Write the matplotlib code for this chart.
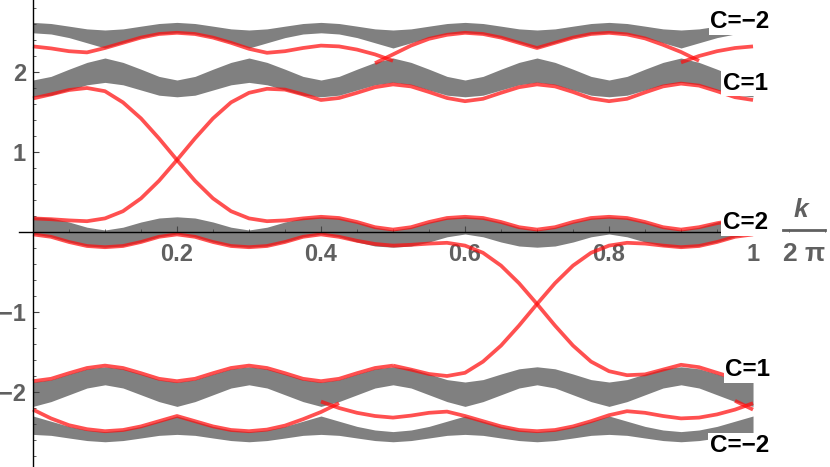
import numpy as np
import matplotlib
matplotlib.use("Agg")
import matplotlib.pyplot as plt
from matplotlib.lines import Line2D
from matplotlib.ticker import FixedLocator, MultipleLocator

plt.rcParams['font.family'] = ['Liberation Sans', 'DejaVu Sans']
plt.rcParams['font.weight'] = 'bold'

# ---------------- data ----------------
K = np.linspace(0, 1, 41)  # k/(2 pi) grid, step 0.025

A_top = [2.62, 2.606, 2.573, 2.539, 2.525, 2.539, 2.573, 2.606,
         2.62, 2.606, 2.573, 2.539, 2.525, 2.539, 2.573, 2.606,
         2.62, 2.606, 2.573, 2.539, 2.525, 2.539, 2.573, 2.606,
         2.62, 2.606, 2.573, 2.539, 2.525, 2.539, 2.573, 2.606,
         2.62, 2.606, 2.573, 2.539, 2.525, 2.539, 2.573, 2.606, 2.62]
A_bot = [2.49, 2.475, 2.43, 2.365, 2.30, 2.365, 2.43, 2.475,
         2.49, 2.475, 2.43, 2.365, 2.30, 2.365, 2.43, 2.475,
         2.49, 2.475, 2.43, 2.365, 2.30, 2.365, 2.43, 2.475,
         2.49, 2.475, 2.43, 2.365, 2.30, 2.365, 2.43, 2.475,
         2.49, 2.475, 2.43, 2.365, 2.30, 2.365, 2.43, 2.475, 2.49]
B_top = [1.90, 1.945, 2.035, 2.12, 2.175, 2.12, 2.035, 1.945,
         1.90, 1.945, 2.035, 2.12, 2.175, 2.12, 2.035, 1.945,
         1.90, 1.945, 2.035, 2.12, 2.175, 2.12, 2.035, 1.945,
         1.90, 1.945, 2.035, 2.12, 2.175, 2.12, 2.035, 1.945,
         1.90, 1.945, 2.035, 2.12, 2.175, 2.12, 2.035, 1.945, 1.90]
B_bot = [1.69, 1.71, 1.775, 1.84, 1.87, 1.84, 1.775, 1.71,
         1.69, 1.71, 1.775, 1.84, 1.87, 1.84, 1.775, 1.71,
         1.69, 1.71, 1.775, 1.84, 1.87, 1.84, 1.775, 1.71,
         1.69, 1.71, 1.775, 1.84, 1.87, 1.84, 1.775, 1.71,
         1.69, 1.71, 1.775, 1.84, 1.87, 1.84, 1.775, 1.71, 1.69]
E_top = [0.19, 0.175, 0.125, 0.06, 0.025, 0.06, 0.125, 0.175,
         0.19, 0.175, 0.125, 0.06, 0.025, 0.06, 0.125, 0.175,
         0.19, 0.175, 0.125, 0.06, 0.025, 0.06, 0.125, 0.175,
         0.19, 0.175, 0.125, 0.06, 0.025, 0.06, 0.125, 0.175,
         0.19, 0.175, 0.125, 0.06, 0.025, 0.06, 0.125, 0.175, 0.19]
E_bot = [-0.025, -0.06, -0.125, -0.175, -0.19, -0.175, -0.125, -0.06,
         -0.025, -0.06, -0.125, -0.175, -0.19, -0.175, -0.125, -0.06,
         -0.025, -0.06, -0.125, -0.175, -0.19, -0.175, -0.125, -0.06,
         -0.025, -0.06, -0.125, -0.175, -0.19, -0.175, -0.125, -0.06,
         -0.025, -0.06, -0.125, -0.175, -0.19, -0.175, -0.125, -0.06, -0.025]
C_top = [-1.875, -1.845, -1.775, -1.71, -1.685, -1.71, -1.775, -1.845,
         -1.875, -1.845, -1.775, -1.71, -1.685, -1.71, -1.775, -1.845,
         -1.875, -1.845, -1.775, -1.71, -1.685, -1.71, -1.775, -1.845,
         -1.875, -1.845, -1.775, -1.71, -1.685, -1.71, -1.775, -1.845,
         -1.875, -1.845, -1.775, -1.71, -1.685, -1.71, -1.775, -1.845, -1.875]
C_bot = [-2.18, -2.12, -2.035, -1.95, -1.91, -1.95, -2.035, -2.12,
         -2.18, -2.12, -2.035, -1.95, -1.91, -1.95, -2.035, -2.12,
         -2.18, -2.12, -2.035, -1.95, -1.91, -1.95, -2.035, -2.12,
         -2.18, -2.12, -2.035, -1.95, -1.91, -1.95, -2.035, -2.12,
         -2.18, -2.12, -2.035, -1.95, -1.91, -1.95, -2.035, -2.12, -2.18]
D_top = [-2.30, -2.365, -2.43, -2.475, -2.495, -2.475, -2.43, -2.365,
         -2.30, -2.365, -2.43, -2.475, -2.495, -2.475, -2.43, -2.365,
         -2.30, -2.365, -2.43, -2.475, -2.495, -2.475, -2.43, -2.365,
         -2.30, -2.365, -2.43, -2.475, -2.495, -2.475, -2.43, -2.365,
         -2.30, -2.365, -2.43, -2.475, -2.495, -2.475, -2.43, -2.365, -2.30]
D_bot = [-2.53, -2.542, -2.575, -2.607, -2.622, -2.607, -2.575, -2.542,
         -2.53, -2.542, -2.575, -2.607, -2.622, -2.607, -2.575, -2.542,
         -2.53, -2.542, -2.575, -2.607, -2.622, -2.607, -2.575, -2.542,
         -2.53, -2.542, -2.575, -2.607, -2.622, -2.607, -2.575, -2.542,
         -2.53, -2.542, -2.575, -2.607, -2.622, -2.607, -2.575, -2.542, -2.53]

# edge-state curves (k values, energies)
U1_k = K[0:21]
U1_y = [2.32, 2.295, 2.26, 2.245, 2.30, 2.365, 2.43, 2.475, 2.49, 2.475, 2.43,
        2.365, 2.29, 2.24, 2.26, 2.30, 2.33, 2.32, 2.28, 2.22, 2.14]
U2_k = K[19:38]
U2_y = [2.11, 2.22, 2.33, 2.415, 2.465, 2.49, 2.475, 2.43, 2.365, 2.30, 2.365,
        2.43, 2.475, 2.49, 2.47, 2.42, 2.34, 2.25, 2.14]
U3_k = K[36:41]
U3_y = [2.12, 2.20, 2.26, 2.30, 2.32]
U4_k = K
U4_y = [1.67, 1.72, 1.775, 1.80, 1.76, 1.62, 1.42, 1.17, 0.90, 0.64, 0.42,
        0.26, 0.17, 0.135, 0.145, 0.17, 0.19, 0.175, 0.125, 0.06, 0.03,
        0.06, 0.125, 0.175, 0.19, 0.175, 0.125, 0.06, 0.03, 0.06, 0.125,
        0.175, 0.19, 0.175, 0.125, 0.06, 0.03, 0.06, 0.11, 0.15, 0.17]
U5_k = K
U5_y = [0.17, 0.16, 0.145, 0.135, 0.17, 0.26, 0.42, 0.64, 0.90, 1.17, 1.42,
        1.62, 1.74, 1.79, 1.78, 1.72, 1.65, 1.675, 1.74, 1.81, 1.845,
        1.82, 1.75, 1.675, 1.635, 1.665, 1.74, 1.81, 1.845, 1.82, 1.75,
        1.67, 1.635, 1.665, 1.745, 1.82, 1.855, 1.83, 1.76, 1.685, 1.65]
L1_k = K[16:41]
L1_y = [-2.12, -2.20, -2.26, -2.30, -2.32, -2.295, -2.26, -2.245, -2.30, -2.365,
        -2.43, -2.475, -2.49, -2.475, -2.43, -2.365, -2.29, -2.24, -2.26, -2.30,
        -2.33, -2.32, -2.28, -2.22, -2.14]
L2_k = K[0:18]
L2_y = [-2.22, -2.33, -2.415, -2.465, -2.49, -2.475, -2.43, -2.365, -2.30,
        -2.365, -2.43, -2.475, -2.49, -2.47, -2.42, -2.34, -2.25, -2.14]
L2b_k = K[39:41]
L2b_y = [-2.11, -2.22]
L3_k = K[20:41]
L3_y = [-1.67, -1.72, -1.775, -1.80, -1.76, -1.62, -1.42, -1.17, -0.90, -0.64,
        -0.42, -0.26, -0.17, -0.135, -0.145, -0.17, -0.19, -0.175, -0.125,
        -0.06, -0.03]
L4_k = K[0:21]
L4_y = [-0.03, -0.06, -0.125, -0.175, -0.19, -0.175, -0.125, -0.06, -0.03,
        -0.06, -0.125, -0.175, -0.19, -0.175, -0.125, -0.06, -0.03, -0.06,
        -0.11, -0.15, -0.17]
L5_k = K[20:41]
L5_y = [-0.17, -0.16, -0.145, -0.135, -0.17, -0.26, -0.42, -0.64, -0.90, -1.17,
        -1.42, -1.62, -1.74, -1.79, -1.78, -1.72, -1.66, -1.69, -1.76, -1.83,
        -1.865]
L6_k = K[0:21]
L6_y = [-1.865, -1.835, -1.765, -1.70, -1.67, -1.70, -1.765, -1.835, -1.865,
        -1.835, -1.765, -1.70, -1.67, -1.70, -1.765, -1.835, -1.865, -1.835,
        -1.765, -1.70, -1.67]

bands = [(A_bot, A_top), (B_bot, B_top), (E_bot, E_top), (C_bot, C_top), (D_bot, D_top)]
edges = [(U1_k, U1_y), (U2_k, U2_y), (U3_k, U3_y), (U4_k, U4_y), (U5_k, U5_y),
         (L1_k, L1_y), (L2_k, L2_y), (L2b_k, L2b_y), (L3_k, L3_y), (L4_k, L4_y),
         (L5_k, L5_y), (L6_k, L6_y)]

labels = ['C=\u22122', 'C=1', 'C=2', 'C=1', 'C=\u22122']
label_k = [0.982, 0.989, 0.989, 0.993, 0.981]
label_y = [2.625, 1.86, 0.115, -1.725, -2.675]

xticks = [0.2, 0.4, 0.6, 0.8, 1.0]
xticklabels = ['0.2', '0.4', '0.6', '0.8', '1']
yticks = [-2, -1, 1, 2]
yticklabels = ['\u22122', '\u22121', '1', '2']

# ---------------- drawing ----------------
W, H = 830, 467
fig = plt.figure(figsize=(W / 100, H / 100), dpi=100)
ax = fig.add_axes([0, 0, 1, 1])
ax.set_xlim(-0.0458, 1.1069)
ax.set_ylim(-2.9375, 2.9)

GRAY = '#808080'
for lo, hi in bands:
    ax.fill_between(K, lo, hi, color=GRAY, lw=0, zorder=1)

for kk, yy in edges:
    ax.plot(kk, yy, color=(1.0, 0.05, 0.05), alpha=0.72, lw=2.7,
            solid_capstyle='butt', solid_joinstyle='round', zorder=2)

for t, xk, yk in zip(labels, label_k, label_y):
    ax.text(xk, yk, t, fontsize=17.5, fontweight='bold', color='black',
            ha='center', va='center', zorder=6,
            bbox=dict(facecolor='white', edgecolor='none', pad=1.0))

for s in ['top', 'right']:
    ax.spines[s].set_visible(False)
ax.spines['left'].set_position(('data', 0))
ax.spines['bottom'].set_position(('data', 0))
ax.spines['bottom'].set_bounds(-0.02, 1.02)
for s in ['left', 'bottom']:
    ax.spines[s].set_color('black')
    ax.spines[s].set_linewidth(1.0)
    ax.spines[s].set_zorder(5)

ax.xaxis.set_major_locator(FixedLocator(xticks))
ax.set_xticklabels(xticklabels)
ax.yaxis.set_major_locator(FixedLocator(yticks))
ax.set_yticklabels(yticklabels)
ax.yaxis.set_minor_locator(MultipleLocator(0.2))
ax.xaxis.set_minor_locator(MultipleLocator(0.05))

ax.tick_params(axis='both', which='major', direction='in', length=4, width=0.8,
               color='#444444', labelcolor='#606060', labelsize=17)
ax.tick_params(axis='both', which='minor', direction='in', length=2.2, width=0.6,
               color='#444444')
ax.tick_params(axis='x', which='major', pad=8)
ax.tick_params(axis='y', which='major', pad=5)
for lab in ax.get_xticklabels() + ax.get_yticklabels():
    lab.set_fontweight('bold')

# axis label k / (2 pi)
fig.text(801 / W, 1 - 210 / H, 'k', fontsize=19, fontweight='bold', style='italic',
         color='#606060', ha='center', va='center')
fig.add_artist(Line2D([783 / W, 825 / W], [1 - 230 / H, 1 - 230 / H],
                      color='#606060', lw=2.0))
fig.text(804 / W, 1 - 254 / H, '2 \u03c0', fontsize=19, fontweight='bold',
         color='#606060', ha='center', va='center')

fig.savefig('out.png', dpi=100)
